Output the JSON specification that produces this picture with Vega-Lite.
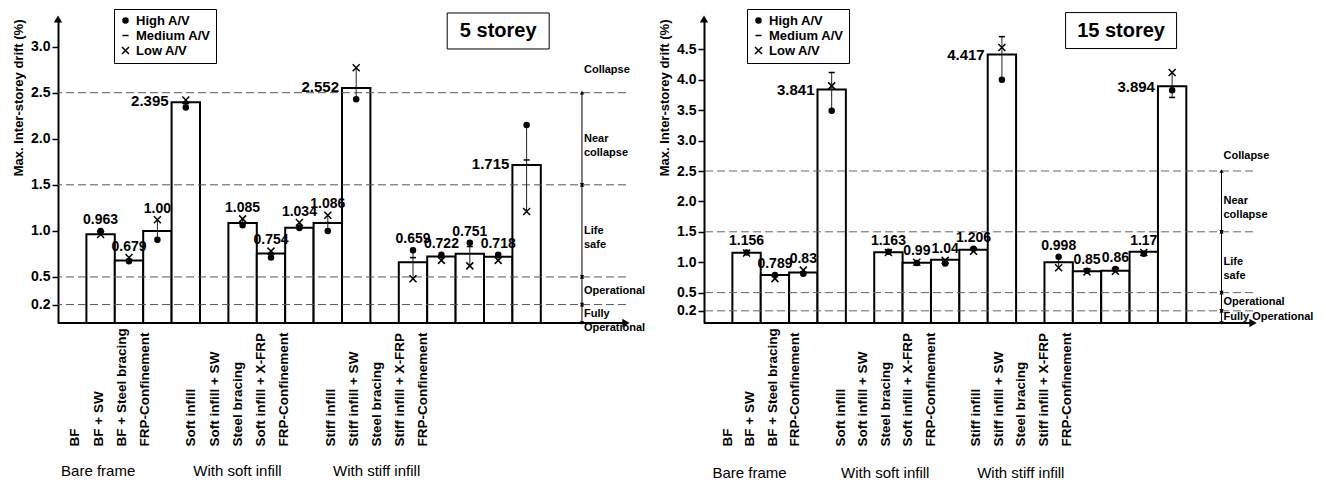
{
  "$schema": "https://vega.github.io/schema/vega-lite/v6.json",
  "background": "white",
  "padding": {"left": 12, "top": 8, "right": 5, "bottom": 0},
  "autosize": {"type": "pad"},
  "spacing": 12,
  "datasets": {
    "s5": [
      {"key": "Bare frame|BF", "value": 0.963, "label": "0.963", "high": 1.0, "medium": 0.975, "low": 0.96},
      {"key": "Bare frame|BF + SW", "value": 0.679, "label": "0.679", "high": 0.67, "medium": 0.69, "low": 0.71},
      {"key": "Bare frame|BF + Steel bracing", "value": 1.0, "label": "1.00", "high": 0.905, "medium": 1.0, "low": 1.12},
      {"key": "Bare frame|FRP-Confinement", "value": 2.395, "label": "2.395", "high": 2.34, "medium": 2.38, "low": 2.42},
      {"key": "With soft infill|Soft infill", "value": 1.085, "label": "1.085", "high": 1.06, "medium": 1.09, "low": 1.13},
      {"key": "With soft infill|Soft infill + SW", "value": 0.754, "label": "0.754", "high": 0.71, "medium": 0.75, "low": 0.78},
      {"key": "With soft infill|Steel bracing", "value": 1.034, "label": "1.034", "high": 1.03, "medium": 1.06, "low": 1.09},
      {"key": "With soft infill|Soft infill + X-FRP", "value": 1.086, "label": "1.086", "high": 1.0, "medium": 1.09, "low": 1.17},
      {"key": "With soft infill|FRP-Confinement", "value": 2.552, "label": "2.552", "high": 2.43, "medium": 2.55, "low": 2.77},
      {"key": "With stiff infill|Stiff infill", "value": 0.659, "label": "0.659", "high": 0.79, "medium": 0.71, "low": 0.48},
      {"key": "With stiff infill|Stiff infill + SW", "value": 0.722, "label": "0.722", "high": 0.74, "medium": 0.72, "low": 0.68},
      {"key": "With stiff infill|Steel bracing", "value": 0.751, "label": "0.751", "high": 0.87, "medium": 0.83, "low": 0.62},
      {"key": "With stiff infill|Stiff infill + X-FRP", "value": 0.718, "label": "0.718", "high": 0.74, "medium": 0.72, "low": 0.68},
      {"key": "With stiff infill|FRP-Confinement", "value": 1.715, "label": "1.715", "high": 2.15, "medium": 1.77, "low": 1.21}
    ],
    "s15": [
      {"key": "Bare frame|BF", "value": 1.156, "label": "1.156", "high": 1.16, "medium": 1.15, "low": 1.15},
      {"key": "Bare frame|BF + SW", "value": 0.789, "label": "0.789", "high": 0.79, "medium": 0.78, "low": 0.73},
      {"key": "Bare frame|BF + Steel bracing", "value": 0.83, "label": "0.83", "high": 0.81, "medium": 0.84, "low": 0.87},
      {"key": "Bare frame|FRP-Confinement", "value": 3.841, "label": "3.841", "high": 3.49, "medium": 4.12, "low": 3.9},
      {"key": "With soft infill|Soft infill", "value": 1.163, "label": "1.163", "high": 1.17, "medium": 1.16, "low": 1.16},
      {"key": "With soft infill|Soft infill + SW", "value": 0.99, "label": "0.99", "high": 0.985, "medium": 0.99, "low": 1.0},
      {"key": "With soft infill|Steel bracing", "value": 1.04, "label": "1.04", "high": 0.98, "medium": 1.01, "low": 1.03},
      {"key": "With soft infill|Soft infill + X-FRP", "value": 1.206, "label": "1.206", "high": 1.22, "medium": 1.2, "low": 1.18},
      {"key": "With soft infill|FRP-Confinement", "value": 4.417, "label": "4.417", "high": 4.0, "medium": 4.71, "low": 4.53},
      {"key": "With stiff infill|Stiff infill", "value": 0.998, "label": "0.998", "high": 1.09, "medium": 1.0, "low": 0.91},
      {"key": "With stiff infill|Stiff infill + SW", "value": 0.85, "label": "0.85", "high": 0.86, "medium": 0.85, "low": 0.84},
      {"key": "With stiff infill|Steel bracing", "value": 0.86, "label": "0.86", "high": 0.89, "medium": 0.86, "low": 0.85},
      {"key": "With stiff infill|Stiff infill + X-FRP", "value": 1.17, "label": "1.17", "high": 1.14, "medium": 1.17, "low": 1.16},
      {"key": "With stiff infill|FRP-Confinement", "value": 3.894, "label": "3.894", "high": 3.83, "medium": 3.71, "low": 4.12}
    ],
    "z5": [
      {"zone": "Collapse", "lo": 2.5, "hi": 3.0},
      {"zone": "Near\ncollapse", "lo": 1.5, "hi": 2.5},
      {"zone": "Life\nsafe", "lo": 0.5, "hi": 1.5},
      {"zone": "Operational", "lo": 0.2, "hi": 0.5},
      {"zone": "Fully\nOperational", "lo": 0, "hi": 0.2}
    ],
    "z15": [
      {"zone": "Collapse", "lo": 2.5, "hi": 3.0},
      {"zone": "Near\ncollapse", "lo": 1.5, "hi": 2.5},
      {"zone": "Life\nsafe", "lo": 0.5, "hi": 1.5},
      {"zone": "Operational", "lo": 0.2, "hi": 0.5},
      {"zone": "Fully Operational", "lo": 0, "hi": 0.2}
    ],
    "g": [
      {"glabel": "Bare frame", "anchor": "Bare frame|BF + SW"},
      {"glabel": "With soft infill", "anchor": "With soft infill|Steel bracing"},
      {"glabel": "With stiff infill", "anchor": "With stiff infill|Steel bracing"}
    ]
  },
  "hconcat": [
    {
      "width": 568,
      "height": 304,
      "resolve": {"scale": {"x": "independent"}, "axis": {"x": "independent"}},
      "layer": [
        {
          "layer": [
            {
              "data": {"name": "s5"},
              "mark": {"type": "bar", "fill": "white", "stroke": "black", "strokeWidth": 2},
              "encoding": {
                "x": {"field": "key", "type": "nominal", "axis": null,
                  "scale": {"type": "band", "paddingInner": 0, "paddingOuter": 0, "domain": ["_lead", "Bare frame|BF", "Bare frame|BF + SW", "Bare frame|BF + Steel bracing", "Bare frame|FRP-Confinement", "_gap1", "With soft infill|Soft infill", "With soft infill|Soft infill + SW", "With soft infill|Steel bracing", "With soft infill|Soft infill + X-FRP", "With soft infill|FRP-Confinement", "_gap2", "With stiff infill|Stiff infill", "With stiff infill|Stiff infill + SW", "With stiff infill|Steel bracing", "With stiff infill|Stiff infill + X-FRP", "With stiff infill|FRP-Confinement", "_t1", "_t2", "_t3"]}},
                "y": {"field": "value", "type": "quantitative",
                  "scale": {"domain": [0, 3.3], "nice": false},
                  "axis": {"values": [0.2, 0.5, 1, 1.5, 2, 2.5, 3], "tickCount": 30, "format": ".1f", "grid": false, "labelOverlap": false, "domainColor": "black", "domainWidth": 2, "tickColor": "black", "tickWidth": 1.5, "tickSize": 6, "labelPadding": 2, "labelFont": "Liberation Sans", "labelFontWeight": "bold", "labelFontSize": 14, "labelColor": "black", "title": "Max. Inter-storey drift (%)", "titleFont": "Liberation Sans", "titleFontWeight": "bold", "titleFontSize": 13, "titleColor": "black", "titleAnchor": "end", "titlePadding": 5}}
              }
            },
            {
              "data": {"name": "z5"},
              "transform": [{"filter": "datum.lo > 0"}],
              "mark": {"type": "rule", "stroke": "#555", "strokeWidth": 1, "strokeDash": [8, 4]},
              "encoding": {"y": {"field": "lo", "type": "quantitative"}}
            },
            {
              "data": {"values": [{}]},
              "mark": {"type": "rule", "stroke": "black", "strokeWidth": 2},
              "encoding": {"y": {"datum": 0}}
            },
            {
              "data": {"name": "s5"},
              "transform": [{"fold": ["high", "medium", "low"], "as": ["level", "v"]}],
              "mark": {"type": "rule", "stroke": "#222", "strokeWidth": 1},
              "encoding": {
                "x": {"field": "key", "type": "nominal", "axis": null},
                "y": {"aggregate": "min", "field": "v", "type": "quantitative"},
                "y2": {"aggregate": "max", "field": "v"}
              }
            },
            {
              "data": {"name": "s5"},
              "transform": [{"fold": ["high", "medium", "low"], "as": ["level", "v"]}],
              "mark": {"type": "point", "filled": true, "fill": "black", "stroke": "black", "strokeWidth": 1.5, "opacity": 1},
              "encoding": {
                "x": {"field": "key", "type": "nominal", "axis": null},
                "y": {"field": "v", "type": "quantitative"},
                "shape": {"field": "level", "type": "nominal",
                  "scale": {"domain": ["high", "medium", "low"], "range": ["circle", "stroke", "M-1,-1L1,1M-1,1L1,-1"]},
                  "legend": {"title": null, "orient": "none", "legendX": 56, "legendY": -10, "strokeColor": "black", "fillColor": "white", "padding": 5, "labelFont": "Liberation Sans", "labelFontWeight": "bold", "labelFontSize": 13, "labelColor": "black", "rowPadding": 1, "labelExpr": "datum.label == 'high' ? 'High A/V' : datum.label == 'medium' ? 'Medium A/V' : 'Low A/V'", "encode": {"symbols": {"update": {"stroke": {"value": "black"}, "strokeWidth": {"value": 1.5}, "fill": {"value": "black"}, "opacity": {"value": 1}}}}}},
                "size": {"field": "level", "type": "nominal",
                  "scale": {"domain": ["high", "medium", "low"], "range": [25, 49, 36]},
                  "legend": {"title": null, "orient": "none", "legendX": 56, "legendY": -10, "strokeColor": "black", "fillColor": "white", "padding": 5, "labelFont": "Liberation Sans", "labelFontWeight": "bold", "labelFontSize": 13, "labelColor": "black", "rowPadding": 1, "labelExpr": "datum.label == 'high' ? 'High A/V' : datum.label == 'medium' ? 'Medium A/V' : 'Low A/V'", "encode": {"symbols": {"update": {"stroke": {"value": "black"}, "strokeWidth": {"value": 1.5}, "fill": {"value": "black"}, "opacity": {"value": 1}}}}}}
              }
            },
            {
              "data": {"name": "s5"},
              "transform": [{"calculate": "max(datum.value, datum.high, datum.medium, datum.low)", "as": "top"}, {"filter": "datum.value < 1.5"}],
              "mark": {"type": "text", "fontWeight": "bold", "fontSize": 14, "baseline": "bottom", "align": "center", "dy": -4, "color": "black"},
              "encoding": {
                "x": {"field": "key", "type": "nominal", "axis": null},
                "y": {"field": "top", "type": "quantitative"},
                "text": {"field": "label"}
              }
            },
            {
              "data": {"name": "s5"},
              "transform": [{"filter": "datum.value >= 1.5"}],
              "mark": {"type": "text", "fontWeight": "bold", "fontSize": 15, "baseline": "middle", "align": "right", "dx": -3, "dy": -1, "color": "black"},
              "encoding": {
                "x": {"field": "key", "type": "nominal", "bandPosition": 0, "axis": null},
                "y": {"field": "value", "type": "quantitative"},
                "text": {"field": "label"}
              }
            },
            {
              "data": {"name": "z5"},
              "transform": [{"filter": "datum.lo < 2.5"}],
              "mark": {"type": "rule", "stroke": "black", "strokeWidth": 1},
              "encoding": {
                "x": {"datum": "_t2", "type": "nominal", "bandPosition": 0.45, "axis": null},
                "y": {"field": "lo", "type": "quantitative"},
                "y2": {"field": "hi"}
              }
            },
            {
              "data": {"name": "z5"},
              "transform": [{"filter": "datum.lo < 2.5"}],
              "mark": {"type": "point", "shape": "triangle-up", "filled": true, "color": "black", "size": 18, "opacity": 1},
              "encoding": {
                "x": {"datum": "_t2", "type": "nominal", "bandPosition": 0.45, "axis": null},
                "y": {"field": "hi", "type": "quantitative"}
              }
            },
            {
              "data": {"name": "z5"},
              "transform": [{"filter": "datum.lo < 2.5"}],
              "mark": {"type": "point", "shape": "triangle-down", "filled": true, "color": "black", "size": 18, "opacity": 1},
              "encoding": {
                "x": {"datum": "_t2", "type": "nominal", "bandPosition": 0.45, "axis": null},
                "y": {"field": "lo", "type": "quantitative"}
              }
            },
            {
              "data": {"name": "z5"},
              "transform": [{"calculate": "(datum.lo + datum.hi) / 2", "as": "mid"}],
              "mark": {"type": "text", "fontWeight": "bold", "fontSize": 11, "align": "left", "baseline": "middle", "dx": 2, "lineBreak": "\n", "lineHeight": 14, "color": "black"},
              "encoding": {
                "x": {"datum": "_t2", "type": "nominal", "bandPosition": 0.45, "axis": null},
                "y": {"field": "mid", "type": "quantitative"},
                "text": {"field": "zone"}
              }
            },
            {
              "data": {"values": [{}]},
              "mark": {"type": "point", "shape": "triangle-up", "filled": true, "color": "black", "size": 70, "opacity": 1},
              "encoding": {
                "x": {"datum": "_lead", "type": "nominal", "bandPosition": 0, "axis": null},
                "y": {"datum": 3.3}
              }
            },
            {
              "data": {"values": [{}]},
              "mark": {"type": "point", "shape": "triangle-right", "filled": true, "color": "black", "size": 70, "opacity": 1},
              "encoding": {
                "x": {"datum": "_t3", "type": "nominal", "bandPosition": 1, "axis": null},
                "y": {"datum": 0}
              }
            },
            {
              "data": {"values": [{"title": "5 storey"}]},
              "mark": {"type": "point", "shape": "M-1,-0.353H1V0.353H-1Z", "filled": false, "stroke": "black", "strokeWidth": 1, "size": 10404, "opacity": 1},
              "encoding": {
                "x": {"datum": "With stiff infill|Stiff infill + X-FRP", "type": "nominal", "axis": null},
                "y": {"datum": 3.17}
              }
            },
            {
              "data": {"values": [{"title": "5 storey"}]},
              "mark": {"type": "text", "fontSize": 20, "fontWeight": "bold", "baseline": "middle", "align": "center", "color": "black"},
              "encoding": {
                "x": {"datum": "With stiff infill|Stiff infill + X-FRP", "type": "nominal", "axis": null},
                "y": {"datum": 3.17},
                "text": {"field": "title"}
              }
            }
          ]
        },
        {
          "data": {"name": "g"},
          "mark": {"type": "text", "fontSize": 15, "baseline": "middle", "align": "center", "color": "black"},
          "encoding": {
            "x": {"field": "anchor", "type": "nominal",
              "scale": {"type": "point", "padding": 0.741, "align": 0.494, "domain": ["Bare frame|BF", "Bare frame|BF + SW", "Bare frame|BF + Steel bracing", "Bare frame|FRP-Confinement", "_g1", "With soft infill|Soft infill", "With soft infill|Soft infill + SW", "With soft infill|Steel bracing", "With soft infill|Soft infill + X-FRP", "With soft infill|FRP-Confinement", "_g2", "With stiff infill|Stiff infill", "With stiff infill|Stiff infill + SW", "With stiff infill|Steel bracing", "With stiff infill|Stiff infill + X-FRP", "With stiff infill|FRP-Confinement", "_e1", "_e2", "_e3", "_e4", "_e5", "_e6", "_e7", "_e8"]},
              "axis": {"orient": "bottom", "title": null, "ticks": false, "domain": false, "grid": false, "labelAngle": 270, "labelAlign": "left", "labelBaseline": "middle", "labelPadding": 123, "labelFont": "Liberation Sans", "labelFontWeight": "bold", "labelFontSize": 13.5, "labelColor": "black", "labelOverlap": false, "labelBound": false, "labelLimit": 0, "labelExpr": "indexof(datum.value, '|') > 0 ? split(datum.value, '|')[1] : ''"}},
            "y": {"datum": -1.61},
            "text": {"field": "glabel"}
          }
        }
      ]
    },
    {
      "width": 549,
      "height": 304,
      "resolve": {"scale": {"x": "independent"}, "axis": {"x": "independent"}},
      "layer": [
        {
          "layer": [
            {
              "data": {"name": "s15"},
              "mark": {"type": "bar", "fill": "white", "stroke": "black", "strokeWidth": 2},
              "encoding": {
                "x": {"field": "key", "type": "nominal", "axis": null,
                  "scale": {"type": "band", "paddingInner": 0, "paddingOuter": 0.175, "align": 0, "domain": ["_lead", "Bare frame|BF", "Bare frame|BF + SW", "Bare frame|BF + Steel bracing", "Bare frame|FRP-Confinement", "_gap1", "With soft infill|Soft infill", "With soft infill|Soft infill + SW", "With soft infill|Steel bracing", "With soft infill|Soft infill + X-FRP", "With soft infill|FRP-Confinement", "_gap2", "With stiff infill|Stiff infill", "With stiff infill|Stiff infill + SW", "With stiff infill|Steel bracing", "With stiff infill|Stiff infill + X-FRP", "With stiff infill|FRP-Confinement", "_t1", "_t2"]}},
                "y": {"field": "value", "type": "quantitative",
                  "scale": {"domain": [0, 5.0], "nice": false},
                  "axis": {"values": [0.2, 0.5, 1, 1.5, 2, 2.5, 3, 3.5, 4, 4.5], "tickCount": 30, "format": ".1f", "grid": false, "labelOverlap": false, "domainColor": "black", "domainWidth": 2, "tickColor": "black", "tickWidth": 1.5, "tickSize": 6, "labelPadding": 2, "labelFont": "Liberation Sans", "labelFontWeight": "bold", "labelFontSize": 14, "labelColor": "black", "title": "Max. Inter-storey drift (%)", "titleFont": "Liberation Sans", "titleFontWeight": "bold", "titleFontSize": 13, "titleColor": "black", "titleAnchor": "end", "titlePadding": 5}}
              }
            },
            {
              "data": {"name": "z15"},
              "transform": [{"filter": "datum.lo > 0"}],
              "mark": {"type": "rule", "stroke": "#666", "strokeWidth": 1, "strokeDash": [8, 4]},
              "encoding": {"y": {"field": "lo", "type": "quantitative"}}
            },
            {
              "data": {"values": [{}]},
              "mark": {"type": "rule", "stroke": "black", "strokeWidth": 2},
              "encoding": {"y": {"datum": 0}}
            },
            {
              "data": {"name": "s15"},
              "transform": [{"fold": ["high", "medium", "low"], "as": ["level", "v"]}],
              "mark": {"type": "rule", "stroke": "#222", "strokeWidth": 1},
              "encoding": {
                "x": {"field": "key", "type": "nominal", "axis": null},
                "y": {"aggregate": "min", "field": "v", "type": "quantitative"},
                "y2": {"aggregate": "max", "field": "v"}
              }
            },
            {
              "data": {"name": "s15"},
              "transform": [{"fold": ["high", "medium", "low"], "as": ["level", "v"]}],
              "mark": {"type": "point", "filled": true, "fill": "black", "stroke": "black", "strokeWidth": 1.5, "opacity": 1},
              "encoding": {
                "x": {"field": "key", "type": "nominal", "axis": null},
                "y": {"field": "v", "type": "quantitative"},
                "shape": {"field": "level", "type": "nominal",
                  "scale": {"domain": ["high", "medium", "low"], "range": ["circle", "stroke", "M-1,-1L1,1M-1,1L1,-1"]},
                  "legend": {"title": null, "orient": "none", "legendX": 43, "legendY": -10, "strokeColor": "black", "fillColor": "white", "padding": 5, "labelFont": "Liberation Sans", "labelFontWeight": "bold", "labelFontSize": 13, "labelColor": "black", "rowPadding": 1, "labelExpr": "datum.label == 'high' ? 'High A/V' : datum.label == 'medium' ? 'Medium A/V' : 'Low A/V'", "encode": {"symbols": {"update": {"stroke": {"value": "black"}, "strokeWidth": {"value": 1.5}, "fill": {"value": "black"}, "opacity": {"value": 1}}}}}},
                "size": {"field": "level", "type": "nominal",
                  "scale": {"domain": ["high", "medium", "low"], "range": [25, 49, 36]},
                  "legend": {"title": null, "orient": "none", "legendX": 43, "legendY": -10, "strokeColor": "black", "fillColor": "white", "padding": 5, "labelFont": "Liberation Sans", "labelFontWeight": "bold", "labelFontSize": 13, "labelColor": "black", "rowPadding": 1, "labelExpr": "datum.label == 'high' ? 'High A/V' : datum.label == 'medium' ? 'Medium A/V' : 'Low A/V'", "encode": {"symbols": {"update": {"stroke": {"value": "black"}, "strokeWidth": {"value": 1.5}, "fill": {"value": "black"}, "opacity": {"value": 1}}}}}}
              }
            },
            {
              "data": {"name": "s15"},
              "transform": [{"calculate": "max(datum.value, datum.high, datum.medium, datum.low)", "as": "top"}, {"filter": "datum.value < 1.5"}],
              "mark": {"type": "text", "fontWeight": "bold", "fontSize": 14, "baseline": "bottom", "align": "center", "dy": -4, "color": "black"},
              "encoding": {
                "x": {"field": "key", "type": "nominal", "axis": null},
                "y": {"field": "top", "type": "quantitative"},
                "text": {"field": "label"}
              }
            },
            {
              "data": {"name": "s15"},
              "transform": [{"filter": "datum.value >= 1.5"}],
              "mark": {"type": "text", "fontWeight": "bold", "fontSize": 15, "baseline": "middle", "align": "right", "dx": -3, "dy": 1, "color": "black"},
              "encoding": {
                "x": {"field": "key", "type": "nominal", "bandPosition": 0, "axis": null},
                "y": {"field": "value", "type": "quantitative"},
                "text": {"field": "label"}
              }
            },
            {
              "data": {"name": "z15"},
              "transform": [{"filter": "datum.lo < 2.5"}],
              "mark": {"type": "rule", "stroke": "black", "strokeWidth": 1},
              "encoding": {
                "x": {"datum": "_t2", "type": "nominal", "bandPosition": 0.24, "axis": null},
                "y": {"field": "lo", "type": "quantitative"},
                "y2": {"field": "hi"}
              }
            },
            {
              "data": {"name": "z15"},
              "transform": [{"filter": "datum.lo < 2.5"}],
              "mark": {"type": "point", "shape": "triangle-up", "filled": true, "color": "black", "size": 18, "opacity": 1},
              "encoding": {
                "x": {"datum": "_t2", "type": "nominal", "bandPosition": 0.24, "axis": null},
                "y": {"field": "hi", "type": "quantitative"}
              }
            },
            {
              "data": {"name": "z15"},
              "transform": [{"filter": "datum.lo < 2.5"}],
              "mark": {"type": "point", "shape": "triangle-down", "filled": true, "color": "black", "size": 18, "opacity": 1},
              "encoding": {
                "x": {"datum": "_t2", "type": "nominal", "bandPosition": 0.24, "axis": null},
                "y": {"field": "lo", "type": "quantitative"}
              }
            },
            {
              "data": {"name": "z15"},
              "transform": [{"calculate": "(datum.lo + datum.hi) / 2", "as": "mid"}],
              "mark": {"type": "text", "fontWeight": "bold", "fontSize": 11, "align": "left", "baseline": "middle", "dx": 2, "lineBreak": "\n", "lineHeight": 14, "color": "black"},
              "encoding": {
                "x": {"datum": "_t2", "type": "nominal", "bandPosition": 0.24, "axis": null},
                "y": {"field": "mid", "type": "quantitative"},
                "text": {"field": "zone"}
              }
            },
            {
              "data": {"values": [{}]},
              "mark": {"type": "point", "shape": "triangle-up", "filled": true, "color": "black", "size": 70, "opacity": 1},
              "encoding": {
                "x": {"datum": "_lead", "type": "nominal", "bandPosition": 0, "axis": null},
                "y": {"datum": 5.0}
              }
            },
            {
              "data": {"values": [{}]},
              "mark": {"type": "point", "shape": "triangle-right", "filled": true, "color": "black", "size": 70, "opacity": 1},
              "encoding": {
                "x": {"datum": "_t2", "type": "nominal", "bandPosition": 1.35, "axis": null},
                "y": {"datum": 0}
              }
            },
            {
              "data": {"values": [{"title": "15 storey"}]},
              "mark": {"type": "point", "shape": "M-1,-0.324H1V0.324H-1Z", "filled": false, "stroke": "black", "strokeWidth": 1, "size": 12321, "opacity": 1},
              "encoding": {
                "x": {"datum": "With stiff infill|Steel bracing", "type": "nominal", "bandPosition": 0.7, "axis": null},
                "y": {"datum": 4.81}
              }
            },
            {
              "data": {"values": [{"title": "15 storey"}]},
              "mark": {"type": "text", "fontSize": 20, "fontWeight": "bold", "baseline": "middle", "align": "center", "color": "black"},
              "encoding": {
                "x": {"datum": "With stiff infill|Steel bracing", "type": "nominal", "bandPosition": 0.7, "axis": null},
                "y": {"datum": 4.81},
                "text": {"field": "title"}
              }
            }
          ]
        },
        {
          "data": {"name": "g"},
          "mark": {"type": "text", "fontSize": 15, "baseline": "middle", "align": "center", "color": "black"},
          "encoding": {
            "x": {"field": "anchor", "type": "nominal",
              "scale": {"type": "point", "padding": 0.646, "align": 0.788, "domain": ["Bare frame|BF", "Bare frame|BF + SW", "Bare frame|BF + Steel bracing", "Bare frame|FRP-Confinement", "_g1", "With soft infill|Soft infill", "With soft infill|Soft infill + SW", "With soft infill|Steel bracing", "With soft infill|Soft infill + X-FRP", "With soft infill|FRP-Confinement", "_g2", "With stiff infill|Stiff infill", "With stiff infill|Stiff infill + SW", "With stiff infill|Steel bracing", "With stiff infill|Stiff infill + X-FRP", "With stiff infill|FRP-Confinement", "_e1", "_e2", "_e3", "_e4", "_e5", "_e6", "_e7", "_e8"]},
              "axis": {"orient": "bottom", "title": null, "ticks": false, "domain": false, "grid": false, "labelAngle": 270, "labelAlign": "left", "labelBaseline": "middle", "labelPadding": 123, "labelFont": "Liberation Sans", "labelFontWeight": "bold", "labelFontSize": 13.5, "labelColor": "black", "labelOverlap": false, "labelBound": false, "labelLimit": 0, "labelExpr": "indexof(datum.value, '|') > 0 ? split(datum.value, '|')[1] : ''"}},
            "y": {"datum": -2.47},
            "text": {"field": "glabel"}
          }
        }
      ]
    }
  ],
  "resolve": {"scale": {"x": "independent", "y": "independent", "shape": "independent", "size": "independent"}, "legend": {"shape": "independent", "size": "independent"}},
  "config": {
    "font": "Liberation Sans",
    "view": {"stroke": null},
    "text": {"font": "Liberation Sans"},
    "axis": {"labelOverlap": false},
    "axisY": {"labelOverlap": false},
    "axisQuantitative": {"labelOverlap": false}
  }
}
